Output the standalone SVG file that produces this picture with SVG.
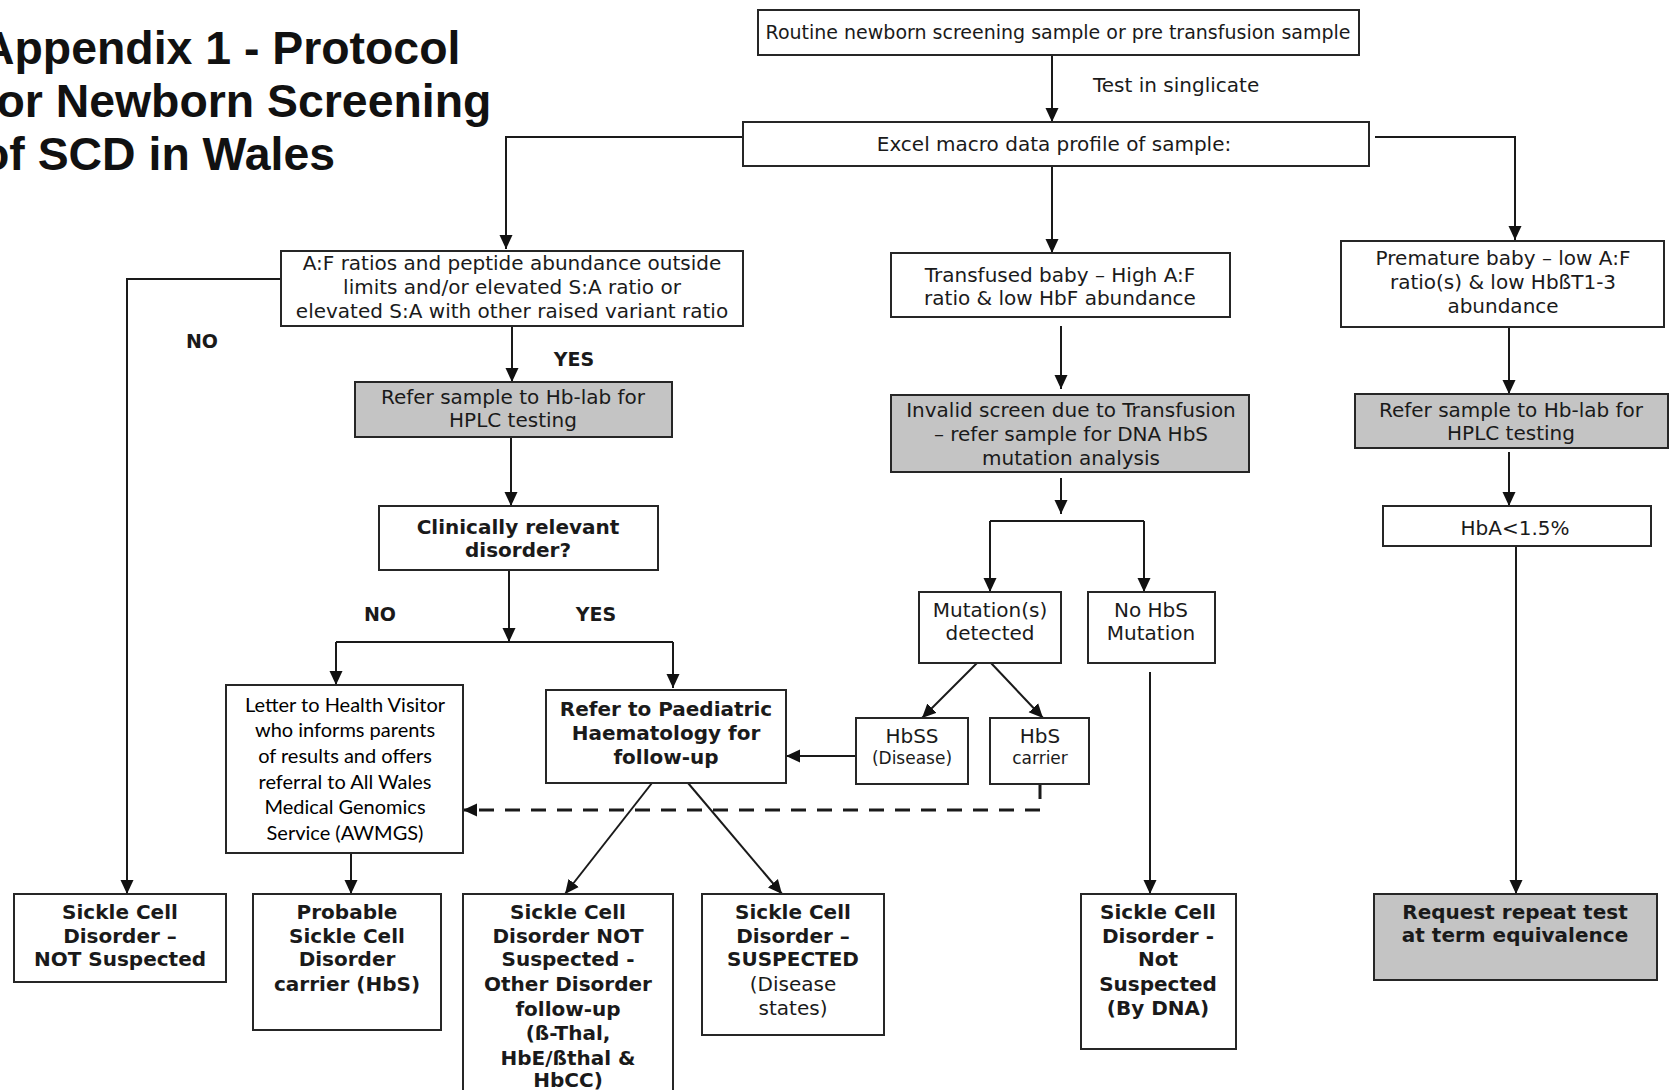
<svg xmlns="http://www.w3.org/2000/svg" width="1669" height="1090" viewBox="0 0 1669 1090">
<defs>
<style>
.box{fill:#fff;stroke:#262626;stroke-width:2}
.gray{fill:#c4c4c4}
.t{font-family:"DejaVu Sans",Verdana,sans-serif;font-size:20px;fill:#1a1a1a;text-anchor:middle}
.b{font-weight:bold}
.sm{font-size:17px}
.cal{font-family:Lato,"Open Sans",sans-serif;font-size:20px;fill:#000}
.title{font-family:"Liberation Sans",Arial,sans-serif;font-size:46.4px;font-weight:bold;fill:#111}
.lab{font-family:"DejaVu Sans",Verdana,sans-serif;font-size:19px;font-weight:bold;fill:#1a1a1a;text-anchor:middle}
#connectors path{fill:none;stroke:#1a1a1a;stroke-width:2}
#connectors path.arr{marker-end:url(#ah)}
#connectors path.dash{stroke-width:3;stroke-dasharray:15 11}
</style>
<marker id="ah" markerUnits="userSpaceOnUse" markerWidth="14" markerHeight="14" viewBox="0 0 14 14" refX="14" refY="7" orient="auto">
<path d="M0,0.5 L14,7 L0,13.5 z" fill="#111"/>
</marker>
</defs>
<rect width="1669" height="1090" fill="#fff"/>

<g id="title">
<text class="title" x="-19" y="64">Appendix 1 - Protocol</text>
<text class="title" x="-19" y="117">for Newborn Screening</text>
<text class="title" x="-19" y="170">of SCD in Wales</text>
</g>

<g id="connectors">
<path class="arr" d="M1052 55 V122"/>
<path class="arr" d="M743 137 H506 V249"/>
<path class="arr" d="M1375 137 H1515 V240"/>
<path class="arr" d="M1052 166 V253"/>
<path class="arr" d="M281 279 H127 V894"/>
<path class="arr" d="M512 326 V382"/>
<path class="arr" d="M511 437 V506"/>
<path class="arr" d="M509 570 V642"/>
<path d="M336 642 H673"/>
<path class="arr" d="M336 642 V685"/>
<path class="arr" d="M673 642 V688"/>
<path class="arr" d="M351 853 V894"/>
<path class="arr" d="M652 783 L565 894"/>
<path class="arr" d="M688 783 L782 894"/>
<path class="arr" d="M1061 326 V389"/>
<path class="arr" d="M1061 478 V514"/>
<path d="M990 521 H1144"/>
<path class="arr" d="M990 521 V592"/>
<path class="arr" d="M1144 521 V592"/>
<path class="arr" d="M977 663 L922 718"/>
<path class="arr" d="M991 663 L1043 718"/>
<path class="arr" d="M856 756 H786"/>
<path class="arr dash" d="M1040 784 V810 H463"/>
<path class="arr" d="M1150 672 V894"/>
<path class="arr" d="M1509 327 V394"/>
<path class="arr" d="M1509 452 V506"/>
<path class="arr" d="M1516 546 V894"/>
</g>

<g id="labels">
<text class="lab" x="202" y="348">NO</text>
<text class="lab" x="574" y="366">YES</text>
<text class="lab" x="380" y="621">NO</text>
<text class="lab" x="596" y="621">YES</text>
<text class="t" x="1093" y="92" style="text-anchor:start">Test in singlicate</text>
</g>

<g id="n-start">
<rect class="box" x="758" y="10" width="601" height="45"/>
<text class="t" x="1058" y="39" style="font-size:19px">Routine newborn screening sample or pre transfusion sample</text>
</g>

<g id="n-excel">
<rect class="box" x="743" y="122" width="626" height="44"/>
<text class="t" x="1054" y="151">Excel macro data profile of sample:</text>
</g>

<g id="n-af">
<rect class="box" x="281" y="251" width="462" height="75"/>
<text class="t" x="512" y="270">A:F ratios and peptide abundance outside</text>
<text class="t" x="512" y="294">limits and/or elevated S:A ratio or</text>
<text class="t" x="512" y="318">elevated S:A with other raised variant ratio</text>
</g>

<g id="n-transfused">
<rect class="box" x="891" y="253" width="339" height="64"/>
<text class="t" x="1060" y="282">Transfused baby – High A:F</text>
<text class="t" x="1060" y="305">ratio &amp; low HbF abundance</text>
</g>

<g id="n-premature">
<rect class="box" x="1341" y="241" width="323" height="86"/>
<text class="t" x="1503" y="265">Premature baby – low A:F</text>
<text class="t" x="1503" y="289">ratio(s) &amp; low HbßT1-3</text>
<text class="t" x="1503" y="313">abundance</text>
</g>

<g id="n-refer-left">
<rect class="box gray" x="355" y="382" width="317" height="55"/>
<text class="t" x="513" y="404">Refer sample to Hb-lab for</text>
<text class="t" x="513" y="427">HPLC testing</text>
</g>

<g id="n-clinical">
<rect class="box" x="379" y="506" width="279" height="64"/>
<text class="t b" x="518" y="534">Clinically relevant</text>
<text class="t b" x="518" y="557">disorder?</text>
</g>

<g id="n-invalid">
<rect class="box gray" x="891" y="395" width="358" height="77"/>
<text class="t" x="1071" y="417">Invalid screen due to Transfusion</text>
<text class="t" x="1071" y="441">– refer sample for DNA HbS</text>
<text class="t" x="1071" y="465">mutation analysis</text>
</g>

<g id="n-refer-right">
<rect class="box gray" x="1355" y="394" width="313" height="54"/>
<text class="t" x="1511" y="417">Refer sample to Hb-lab for</text>
<text class="t" x="1511" y="440">HPLC testing</text>
</g>

<g id="n-hba">
<rect class="box" x="1383" y="506" width="268" height="40"/>
<text class="t" x="1515" y="535">HbA&lt;1.5%</text>
</g>

<g id="n-mutation">
<rect class="box" x="919" y="592" width="142" height="71"/>
<text class="t" x="990" y="617">Mutation(s)</text>
<text class="t" x="990" y="640">detected</text>
</g>

<g id="n-nohbs">
<rect class="box" x="1088" y="592" width="127" height="71"/>
<text class="t" x="1151" y="617">No HbS</text>
<text class="t" x="1151" y="640">Mutation</text>
</g>

<g id="n-hbss">
<rect class="box" x="856" y="718" width="112" height="66"/>
<text class="t" x="912" y="743">HbSS</text>
<text class="t sm" x="912" y="764">(Disease)</text>
</g>

<g id="n-hbs">
<rect class="box" x="990" y="718" width="99" height="66"/>
<text class="t" x="1040" y="743">HbS</text>
<text class="t sm" x="1040" y="764">carrier</text>
</g>

<g id="n-letter">
<rect class="box" x="226" y="685" width="237" height="168"/>
<text class="t cal" x="345" y="712">Letter to Health Visitor</text>
<text class="t cal" x="345" y="737">who informs parents</text>
<text class="t cal" x="345" y="763">of results and offers</text>
<text class="t cal" x="345" y="789">referral to All Wales</text>
<text class="t cal" x="345" y="814">Medical Genomics</text>
<text class="t cal" x="345" y="840">Service (AWMGS)</text>
</g>

<g id="n-paed">
<rect class="box" x="546" y="690" width="240" height="93"/>
<text class="t b" x="666" y="716">Refer to Paediatric</text>
<text class="t b" x="666" y="740">Haematology for</text>
<text class="t b" x="666" y="764">follow-up</text>
</g>

<g id="n-notsusp">
<rect class="box" x="14" y="894" width="212" height="88"/>
<text class="t b" x="120" y="919">Sickle Cell</text>
<text class="t b" x="120" y="943">Disorder –</text>
<text class="t b" x="120" y="966">NOT Suspected</text>
</g>

<g id="n-probable">
<rect class="box" x="253" y="894" width="188" height="136"/>
<text class="t b" x="347" y="919">Probable</text>
<text class="t b" x="347" y="943">Sickle Cell</text>
<text class="t b" x="347" y="966">Disorder</text>
<text class="t b" x="347" y="991">carrier (HbS)</text>
</g>

<g id="n-other">
<rect class="box" x="463" y="894" width="210" height="210"/>
<text class="t b" x="568" y="919">Sickle Cell</text>
<text class="t b" x="568" y="943">Disorder NOT</text>
<text class="t b" x="568" y="966">Suspected  -</text>
<text class="t b" x="568" y="991">Other Disorder</text>
<text class="t b" x="568" y="1016">follow-up</text>
<text class="t b" x="568" y="1040">(ß-Thal,</text>
<text class="t b" x="568" y="1065">HbE/ßthal &amp;</text>
<text class="t b" x="568" y="1087">HbCC)</text>
</g>

<g id="n-suspected">
<rect class="box" x="702" y="894" width="182" height="141"/>
<text class="t b" x="793" y="919">Sickle Cell</text>
<text class="t b" x="793" y="943">Disorder –</text>
<text class="t b" x="793" y="966">SUSPECTED</text>
<text class="t" x="793" y="991">(Disease</text>
<text class="t" x="793" y="1015">states)</text>
</g>

<g id="n-dna">
<rect class="box" x="1081" y="894" width="155" height="155"/>
<text class="t b" x="1158" y="919">Sickle Cell</text>
<text class="t b" x="1158" y="943">Disorder -</text>
<text class="t b" x="1158" y="966">Not</text>
<text class="t b" x="1158" y="991">Suspected</text>
<text class="t b" x="1158" y="1015">(By DNA)</text>
</g>

<g id="n-repeat">
<rect class="box gray" x="1374" y="894" width="283" height="86"/>
<text class="t b" x="1515" y="919">Request repeat test</text>
<text class="t b" x="1515" y="942">at term equivalence</text>
</g>
</svg>
